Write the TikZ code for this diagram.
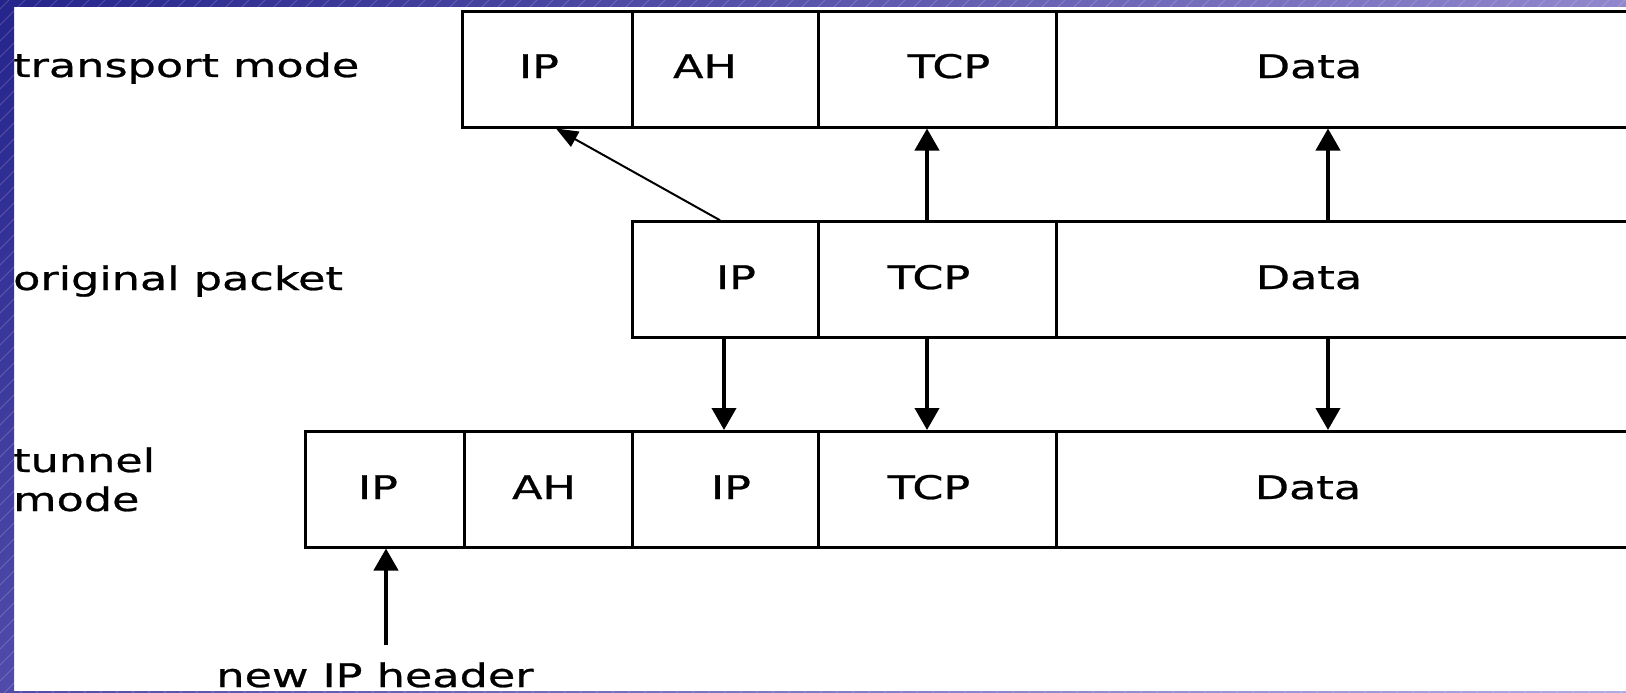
\documentclass[tikz,border=0pt]{standalone}
\usepackage{fontspec}
\setmainfont{DejaVu Sans}
\newfontfamily\pktfont[FakeStretch=1.37,FakeBold=0.8]{DejaVu Sans}
\usetikzlibrary{arrows.meta,shadings}

\definecolor{stripUL}{RGB}{36,36,140}
\definecolor{stripUR}{RGB}{145,135,205}
\definecolor{stripLL}{RGB}{80,75,170}
\definecolor{stripLR}{RGB}{175,170,225}

\begin{document}
\begin{tikzpicture}[x=1pt,y=-1pt,
  cell/.style={draw=black, line width=3pt, inner sep=0pt, minimum height=115.5pt},
  txt/.style={font=\pktfont\fontsize{32.5}{39}\selectfont, inner sep=0pt, text=black},
  arr/.style={line width=4pt, -{Triangle[width=24pt,length=22pt]}},
  thinarr/.style={line width=2pt, -{Triangle[width=17pt,length=22pt]}},
  hatch/.style={white, opacity=0.18, line width=0.8pt}]

\useasboundingbox (0,0) rectangle (1626,693);
\clip (0,0) rectangle (1626,693);
\fill[white] (0,0) rectangle (1626,693);

% transport mode row
\node[cell, minimum width=170pt] (tIP)   at (547,69.25)  {};
\node[cell, minimum width=186pt] (tAH)   at (725,69.25)  {};
\node[cell, minimum width=238pt] (tTCP)  at (937,69.25)  {};
\node[cell, minimum width=594pt] (tData) at (1353,69.25) {};

% original packet row
\node[cell, minimum width=186pt] (oIP)   at (725,279.5)  {};
\node[cell, minimum width=238pt] (oTCP)  at (937,279.5)  {};
\node[cell, minimum width=594pt] (oData) at (1353,279.5) {};

% tunnel mode row
\node[cell, minimum width=159pt] (nIPa)  at (384.5,489.25) {};
\node[cell, minimum width=168pt] (nAH)   at (548,489.25)   {};
\node[cell, minimum width=186pt] (nIPb)  at (725,489.25)   {};
\node[cell, minimum width=238pt] (nTCP)  at (937,489.25)   {};
\node[cell, minimum width=594pt] (nData) at (1353,489.25)  {};

% field names
\node[txt, anchor=base] (tIPtxt)   at (539,78)   {IP};
\node[txt, anchor=base] (tAHtxt)   at (705,78)   {AH};
\node[txt, anchor=base] (tTCPtxt)  at (949,78)   {TCP};
\node[txt, anchor=base] (tDatatxt) at (1309,78)  {Data};

\node[txt, anchor=base] (oIPtxt)   at (736,289)  {IP};
\node[txt, anchor=base] (oTCPtxt)  at (929,289)  {TCP};
\node[txt, anchor=base] (oDatatxt) at (1309,289) {Data};

\node[txt, anchor=base] (nIPatxt)  at (378,499)  {IP};
\node[txt, anchor=base] (nAHtxt)   at (544,499)  {AH};
\node[txt, anchor=base] (nIPbtxt)  at (731,499)  {IP};
\node[txt, anchor=base] (nTCPtxt)  at (929,499)  {TCP};
\node[txt, anchor=base] (nDatatxt) at (1308,499) {Data};

% row labels
\node[txt, anchor=base west] (lblTransport) at (13,77)  {transport mode};
\node[txt, anchor=base west] (lblOriginal)  at (13,290) {original packet};
\node[txt, anchor=base west] (lblTunnel)    at (13,472) {tunnel};
\node[txt, anchor=base west] (lblMode)      at (13,511) {mode};
\node[txt, anchor=base]      (lblNewHdr)    at (375,687) {new IP header};

% arrow columns
\coordinate (xIP)    at (724,0);
\coordinate (xTCP)   at (927,0);
\coordinate (xData)  at (1328,0);
\coordinate (xDiagA) at (720,0);
\coordinate (xDiagB) at (556,0);
\coordinate (hdr)    at (386,645);

% original -> transport
\draw[thinarr] (oIP.north -| xDiagA) -- (tIP.south -| xDiagB);
\draw[arr] (oTCP.north -| xTCP) -- (tTCP.south -| xTCP);
\draw[arr] (oData.north -| xData) -- (tData.south -| xData);

% original -> tunnel
\draw[arr] (oIP.south -| xIP) -- (nIPb.north -| xIP);
\draw[arr] (oTCP.south -| xTCP) -- (nTCP.north -| xTCP);
\draw[arr] (oData.south -| xData) -- (nData.north -| xData);

% new outer header
\draw[arr] (hdr) -- (nIPa.south -| hdr);

% slide frame strips
\begin{scope}
  \clip (0,0) rectangle (14,693) (14,0) rectangle (1626,7) (14,691) rectangle (1626,693);
  \shade[upper left=stripUL, upper right=stripUR, lower left=stripLL, lower right=stripLR]
    (0,0) rectangle (1626,693);
  \foreach \i in {-700,-684,...,1626}
    \draw[hatch] (\i,693) -- ({\i+693},0);
\end{scope}
\end{tikzpicture}
\end{document}
